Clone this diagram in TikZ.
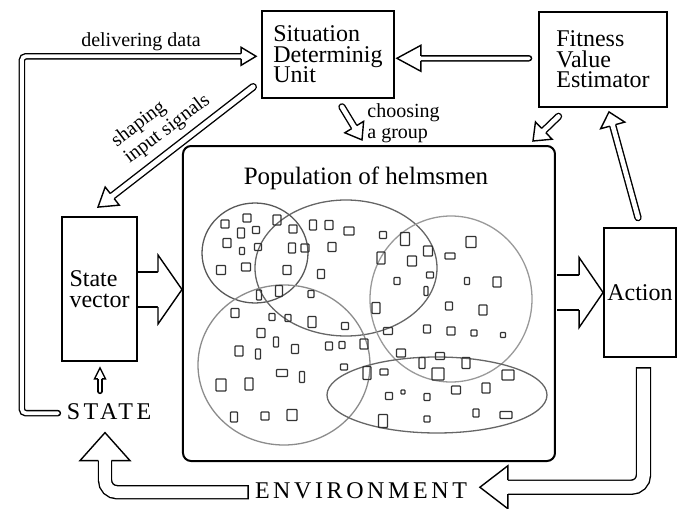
\documentclass[tikz,border=0pt]{standalone}
\usepackage{fontspec}
\setmainfont{Liberation Serif}
\usetikzlibrary{calc}

\tikzset{
    box/.style={draw, line width=0.9pt, align=left, inner sep=0pt,
        font={\fontsize{12}{10.3}\selectfont\lineskiplimit=-10pt}},
    lbl/.style={inner sep=0pt, align=left,
        font={\fontsize{10}{10.5}\selectfont\lineskiplimit=-10pt}},
    caps/.style={inner sep=0pt, font={\fontsize{12}{14}\selectfont\addfontfeature{LetterSpace=15}}},
    shaft/.style={line width=0.7pt, double=white, line cap=round},
    blob/.style={line width=0.65pt},
    cell/.style={draw=black!80, line width=0.6pt, rounded corners=0.4pt}
}

% open arrow head: direction point, tip, half shaft, half head, head length
\newcommand{\hollowhead}[5]{%
    \coordinate (hb) at ($(#2)!#5!(#1)$);
    \filldraw[fill=white, line width=0.7pt]
        ($(hb)!#3!90:(#2)$) -- ($(hb)!#4!90:(#2)$) -- (#2)
        -- ($(hb)!#4!-90:(#2)$) -- ($(hb)!#3!-90:(#2)$);
}
% straight hollow arrow
\newcommand{\hollowarrow}[6][]{%
    \pgfmathsetlengthmacro\shaftgap{2*#4}%
    \draw[shaft, double distance between line centers=\shaftgap, shorten >=#6, #1] (#2) -- (#3);
    \hollowhead{#2}{#3}{#4}{#5}{#6}%
}

\begin{document}
\begin{tikzpicture}[x=0.5pt, y=-0.5pt]
    \useasboundingbox (0,0) rectangle (677,509);

    % boxes
    \node[box, minimum width=66pt, minimum height=43.5pt] (sdu) at (328,54.5) {Situation\\Determinig\\Unit};
    \node[box, minimum width=64pt, minimum height=47.5pt] (fve) at (603,59.5) {Fitness\\Value\\Estimator};
    \node[box, minimum width=37.5pt, minimum height=72pt] (sv) at (99.5,289) {State\\vector};
    \node[box, minimum width=36pt, minimum height=64.5pt] (act) at (640,292.5) {Action};
    \node[draw, line width=1pt, rounded corners=4pt, minimum width=186pt, minimum height=157.5pt] (pop) at (369,303.5) {};
    \node[inner sep=0pt, font=\fontsize{12.5}{14}\selectfont] (title) at (366,178) {Population of helmsmen};

    % texts
    \node[caps, anchor=base] (state) at (109,419) {STATE};
    \node[caps, anchor=base] (env) at (361,498) {ENVIRONMENT};
    \node[lbl] (deliv) at (141,42) {delivering data};
    \node[lbl, rotate=37] (shapelbl) at (161,121) {shaping\\input signals};
    \node[lbl, anchor=west] (chooselbl) at (367,123) {choosing\\a group};

    % groups of helmsmen
    \draw[blob, black!65] (255,253) ellipse [x radius=26.5pt, y radius=25pt];
    \draw[blob, black!60] (346,268) ellipse [x radius=45.5pt, y radius=34pt];
    \draw[blob, black!40] (451,299) ellipse [x radius=40.5pt, y radius=41.5pt];
    \draw[blob, black!45] (284,365) ellipse [x radius=43pt, y radius=40pt];
    \draw[blob, black!60] (437,395) ellipse [x radius=55pt, y radius=19pt];

    % helmsmen
    \foreach \x/\y/\w/\h in {225/224/8/8, 247/218/8/8, 241/233/7/10, 256/230/7/7, 277/220/8/10,
        227/243/8/9, 242/251/5/7, 258/247/7/7, 221/270/9/9, 246/267/9/8, 293/229/8/8,
        313/225/7/10, 329/225/8/9, 349/231/10/8, 292/248/7/10, 305/248/8/8, 332/247/8/9,
        287/270/8/9, 321/274/7/9, 259/295/5/10, 279/291/7/11, 311/294/6/7, 235/313/8/9,
        272/317/6/7, 288/318/6/7, 312/322/8/11, 345/326/7/7, 383/235/7/7, 405/239/9/13,
        381/258/8/12, 412/261/9/10, 428/251/9/10, 450/256/10/6, 471/242/10/11, 397/281/6/7,
        430/275/7/6, 426/291/4/9, 467/281/5/7, 497/282/8/10, 376/308/8/11, 449/306/7/8,
        483/310/8/10, 261/333/8/9, 276/342/5/10, 239/351/8/10, 258/354/5/10, 295/349/7/9,
        329/346/7/8, 342/345/6/7, 364/344/8/10, 344/367/7/6, 282/373/11/7, 302/377/5/11,
        367/373/8/13, 221/385/10/12, 249/384/8/12, 234/417/7/10, 265/416/8/8, 292/415/10/11,
        388/331/9/7, 427/329/7/8, 451/331/8/8, 474/333/6/6, 503/335/5/5, 401/353/9/8,
        422/363/6/11, 440/356/9/7, 466/363/8/11, 384/372/8/6, 438/374/12/12, 508/375/12/10,
        389/396/7/7, 403/392/4/4, 427/397/6/7, 456/390/9/8, 486/388/8/10, 383/421/9/13,
        427/419/6/6, 476/413/6/8, 506/415/12/7}
        \draw[cell] (\x,\y) ++(-\w/2,-\h/2) rectangle ++(\w,\h);

    % arrow ends
    \coordinate (fs-s) at ($(fve.west)+(-9,-1.2)$);
    \coordinate (fs-e) at ($(sdu.east)+(2,3.8)$);
    \coordinate (d-s) at ($(state.west)+(-8.5,2)$);
    \coordinate (d-c) at ($(d-s)+(-36,0)$);
    \coordinate (d-e) at ($(sdu.west)+(-5,1.8)$);
    \coordinate (sp-s) at ($(sdu.south)+(14,8)$);
    \coordinate (sp-e) at ($(sdu.south)+(34,41)$);
    \coordinate (fp-s) at ($(fve.south west)+(20.4,8.5)$);
    \coordinate (fp-e) at ($(pop.north east)+(-23,-4)$);
    \coordinate (af-s) at ($(act.north)+(-2,-9.5)$);
    \coordinate (af-e) at ($(fve.south)+(6,4)$);
    \coordinate (sh-s) at ($(sdu.south west)+(-8,-12)$);
    \coordinate (sh-e) at ($(sv.north)+(-1.5,-9)$);
    \coordinate (vp-s) at ($(sv.east)+(0.6,0.5)$);
    \coordinate (vp-e) at (pop.west |- vp-s);
    \coordinate (pa-s) at ($(pop.east)+(0.6,-11)$);
    \coordinate (pa-e) at (act.west |- pa-s);
    \coordinate (ae-s) at ($(act.south)+(3.5,17)$);
    \coordinate (ae-e) at ($(env.east)+(12.5,-3)$);
    \coordinate (es-s) at ($(env.west)+(-13,2)$);
    \coordinate (es-e) at ($(state.south)+(-4,13)$);
    \coordinate (ss-s) at ($(sv.south)+(0.5,29.5)$);
    \coordinate (ss-e) at ($(sv.south)+(0.5,6)$);

    % arrows
    \hollowarrow{fs-s}{fs-e}{1.25pt}{6.5pt}{12pt}
    \draw[shaft, double distance between line centers=2.6pt, rounded corners=2pt, shorten >=7.5pt]
        (d-s) -- (d-c) |- (d-e);
    \hollowhead{d-c |- d-e}{d-e}{1.3pt}{4.5pt}{7.5pt}
    \hollowarrow{sp-s}{sp-e}{1.5pt}{5.5pt}{7.5pt}
    \hollowarrow{fp-s}{fp-e}{1.5pt}{6pt}{7.5pt}
    \hollowarrow{af-s}{af-e}{1.5pt}{6.25pt}{7pt}
    \hollowarrow{sh-s}{sh-e}{1.6pt}{5.75pt}{9pt}
    \hollowarrow[line cap=butt]{vp-s}{vp-e}{8.75pt}{17.25pt}{12pt}
    \hollowarrow[line cap=butt]{pa-s}{pa-e}{8.75pt}{17.5pt}{12pt}
    \draw[shaft, line cap=rect, double distance between line centers=7pt, rounded corners=6pt, shorten >=14pt]
        (ae-s) |- (ae-e);
    \hollowhead{ae-s |- ae-e}{ae-e}{3.5pt}{10.75pt}{14pt}
    \draw[shaft, line cap=rect, double distance between line centers=6.5pt, rounded corners=6pt, shorten >=14pt]
        (es-s) -| (es-e);
    \hollowhead{es-e |- es-s}{es-e}{3.25pt}{12.5pt}{14pt}
    \hollowarrow{ss-s}{ss-e}{1pt}{2.75pt}{5.5pt}
\end{tikzpicture}
\end{document}
